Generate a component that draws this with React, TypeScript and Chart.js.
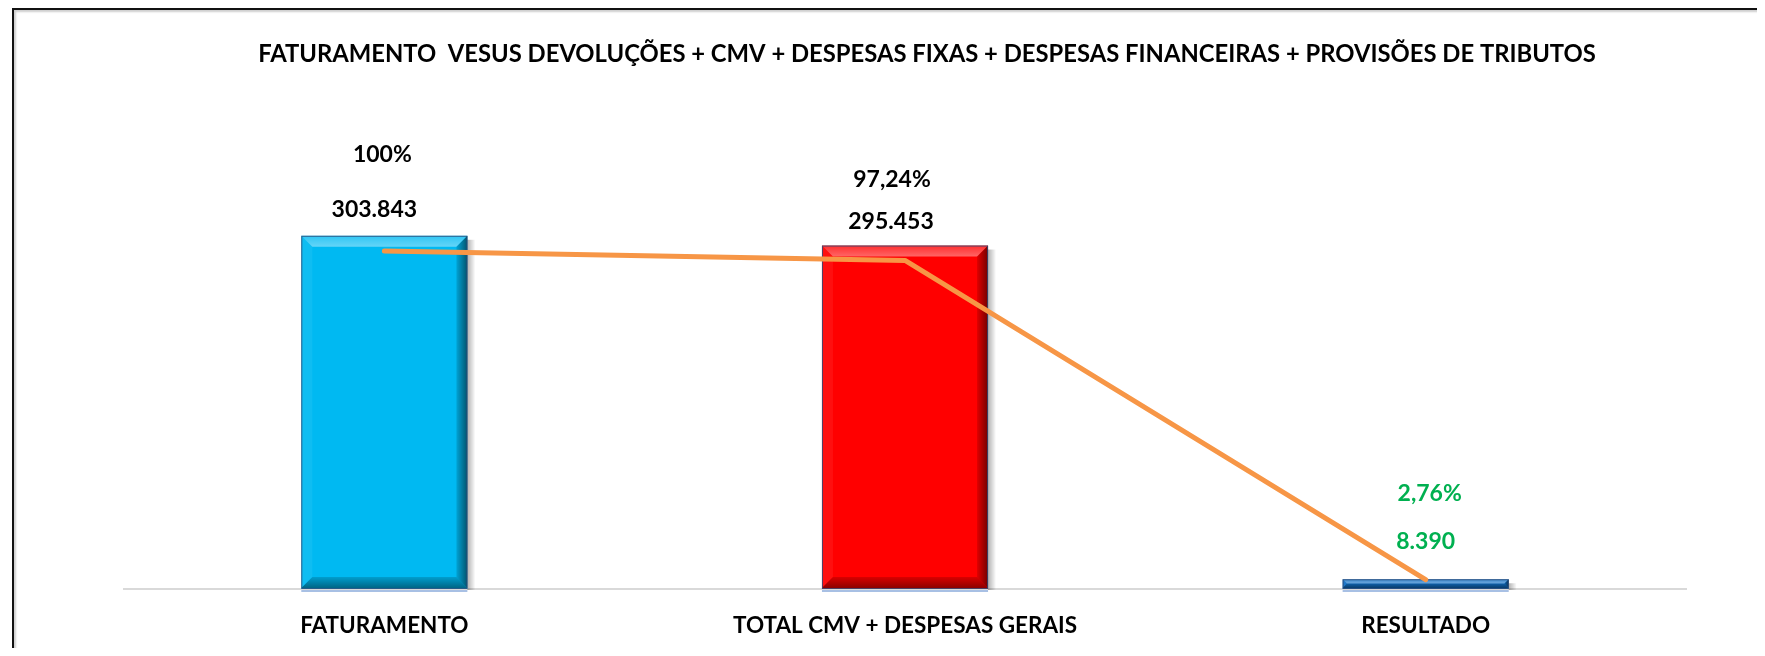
import React, { useEffect, useRef } from "react";
import { Chart, registerables } from "chart.js";

Chart.register(...registerables);

const chartTitle =
  "FATURAMENTO  VESUS DEVOLUÇÕES + CMV + DESPESAS FIXAS + DESPESAS FINANCEIRAS + PROVISÕES DE TRIBUTOS";
const categories = ["FATURAMENTO", "TOTAL CMV + DESPESAS GERAIS", "RESULTADO"];
const values = [303843, 295453, 8390];
const percents = [100, 97.24, 2.76];
const barColors = ["#00B9F2", "#FF0000", "#106FC4"];
const labelColors = ["#000000", "#000000", "#00B050"];
const lineColor = "#F79646";

const fmtNum = (v: number) => v.toString().replace(/\B(?=(\d{3})+(?!\d))/g, ".");
const fmtPct = (p: number) =>
  (Number.isInteger(p) ? String(p) : p.toFixed(2).replace(".", ",")) + "%";

const FONT = "Lato, 'Open Sans', sans-serif";

// per-bar label offsets (px above bar top)
const valueOffsets = [26, 24, 38];
const pctOffsets = [81, 66, 86];
const valueDx = [-10, -14, 0];
const pctDx = [-2, -13, 4];

const bevelPlugin = {
  id: "bevel",
  afterDatasetDraw(chart: any, args: any) {
    if (args.index !== 0) return;
    const ctx: CanvasRenderingContext2D = chart.ctx;
    const meta = chart.getDatasetMeta(0);
    const poly = (pts: number[][], fill: any) => {
      ctx.beginPath();
      ctx.moveTo(pts[0][0], pts[0][1]);
      for (let k = 1; k < pts.length; k++) ctx.lineTo(pts[k][0], pts[k][1]);
      ctx.closePath();
      ctx.fillStyle = fill;
      ctx.fill();
    };
    meta.data.forEach((bar: any) => {
      const p = bar.getProps(["x", "y", "base", "width"], true);
      const L = p.x - p.width / 2;
      const R = p.x + p.width / 2;
      const T = Math.min(p.y, p.base);
      const B = Math.max(p.y, p.base) - 1;
      const h = B - T;
      const b = Math.min(11, h / 2);
      ctx.save();
      const sg = ctx.createLinearGradient(R, 0, R + 8, 0);
      sg.addColorStop(0, "rgba(0,0,0,0.30)");
      sg.addColorStop(1, "rgba(0,0,0,0)");
      ctx.fillStyle = sg;
      ctx.fillRect(R, T + 4, 8, h - 2);
      const tg = ctx.createLinearGradient(0, T, 0, T + b);
      tg.addColorStop(0, "rgba(255,255,255,0.18)");
      tg.addColorStop(1, "rgba(255,255,255,0.40)");
      poly([[L, T], [R, T], [R - b, T + b], [L + b, T + b]], tg);
      poly([[L, T], [L + b, T + b], [L + b, B - b], [L, B]], "rgba(255,255,255,0.06)");
      const rg = ctx.createLinearGradient(R - b, 0, R, 0);
      rg.addColorStop(0, "rgba(0,0,0,0.12)");
      rg.addColorStop(1, "rgba(0,0,0,0.55)");
      poly([[R, T], [R, B], [R - b, B - b], [R - b, T + b]], rg);
      const bg = ctx.createLinearGradient(0, B - b, 0, B);
      bg.addColorStop(0, "rgba(0,0,0,0.15)");
      bg.addColorStop(1, "rgba(0,0,0,0.45)");
      poly([[L, B], [R, B], [R - b, B - b], [L + b, B - b]], bg);
      ctx.strokeStyle = "rgba(45,75,120,0.85)";
      ctx.lineWidth = 1;
      ctx.strokeRect(L + 0.5, T + 0.5, p.width - 1, h);
      ctx.strokeStyle = "rgba(110,150,210,0.8)";
      ctx.lineWidth = 1.5;
      ctx.beginPath();
      ctx.moveTo(L, B + 3);
      ctx.lineTo(R, B + 3);
      ctx.stroke();
      ctx.restore();
    });
  },
};

const labelsPlugin = {
  id: "barLabels",
  afterDatasetsDraw(chart: any) {
    const ctx: CanvasRenderingContext2D = chart.ctx;
    const meta = chart.getDatasetMeta(0);
    ctx.save();
    ctx.textAlign = "center";
    ctx.textBaseline = "middle";
    ctx.font = `bold 23px ${FONT}`;
    meta.data.forEach((bar: any, i: number) => {
      ctx.fillStyle = labelColors[i];
      ctx.fillText(fmtNum(values[i]), bar.x + valueDx[i], bar.y - valueOffsets[i]);
      ctx.fillText(fmtPct(percents[i]), bar.x + pctDx[i], bar.y - pctOffsets[i]);
    });
    ctx.restore();
  },
};

const titlePlugin = {
  id: "customTitle",
  afterDraw(chart: any) {
    const ctx: CanvasRenderingContext2D = chart.ctx;
    ctx.save();
    ctx.textAlign = "center";
    ctx.textBaseline = "middle";
    ctx.fillStyle = "#000";
    ctx.font = `bold 23.8px ${FONT}`;
    ctx.fillText(chartTitle, 913, 44);
    ctx.restore();
  },
};

export default function App() {
  const ref = useRef<HTMLCanvasElement | null>(null);
  useEffect(() => {
    let chart: Chart | null = null;
    let cancelled = false;
    const make = () => {
      if (cancelled || !ref.current) return;
      chart = new Chart(ref.current, {
        type: "bar",
        data: {
          labels: categories,
          datasets: [
            {
              type: "bar",
              data: values,
              backgroundColor: barColors,
              borderWidth: 0,
              yAxisID: "y",
              order: 2,
              categoryPercentage: 1,
              barPercentage: 0.319,
            } as any,
            {
              type: "line",
              data: percents,
              borderColor: lineColor,
              borderWidth: 5,
              pointRadius: 0,
              tension: 0,
              borderCapStyle: "round",
              borderJoinStyle: "round",
              yAxisID: "y2",
              order: 1,
            } as any,
          ],
        },
        options: {
          responsive: false,
          animation: false,
          devicePixelRatio: 1,
          layout: { padding: { left: 110, right: 71, top: 114, bottom: 0 } },
          plugins: {
            legend: { display: false },
            tooltip: { enabled: false },
            title: { display: false },
          },
          scales: {
            x: {
              grid: { display: false },
              border: { display: true, color: "#D9D9D9", width: 2 },
              ticks: {
                color: "#000",
                font: { family: FONT, weight: "bold", size: 22.5 },
                padding: 15,
                maxRotation: 0,
                autoSkip: false,
              },
              afterFit: (s: any) => {
                s.height = 59;
              },
            },
            y: { display: false, min: 0, max: 400000 },
            y2: { display: false, min: 0, max: 137.6, position: "right" },
          },
        } as any,
        plugins: [bevelPlugin, labelsPlugin, titlePlugin],
      });
    };
    const fontsReady = (document as any).fonts
      ? Promise.all([(document as any).fonts.load(`bold 20px Lato`)]).catch(() => null)
      : Promise.resolve(null);
    fontsReady.then(make);
    return () => {
      cancelled = true;
      if (chart) chart.destroy();
    };
  }, []);

  return (
    <div
      style={{
        position: "relative",
        marginLeft: 4,
        width: 1745,
        height: 640,
        boxSizing: "border-box",
        borderTop: "2px solid #111",
        borderLeft: "2px solid #111",
        boxShadow: "inset 3px 3px 2px -1px #cfcfcf",
        background: "#fff",
      }}
    >
      <canvas ref={ref} width={1743} height={638} style={{ display: "block" }} />
    </div>
  );
}
